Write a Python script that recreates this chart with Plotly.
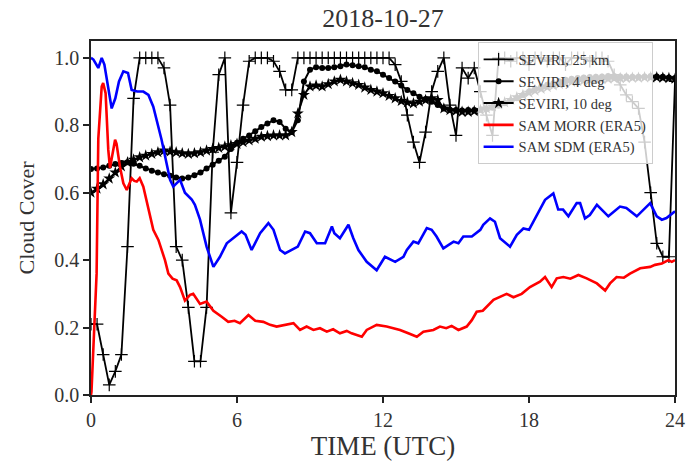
import numpy as np
import plotly.graph_objects as go

# ---------------- data ----------------
# SEVIRI time axis (15-min steps, hours UTC)
t_sev = [i * 0.25 for i in range(97)]

sev_25km = [
    0.21, 0.21, 0.12, 0.03, 0.07, 0.12, 0.44, 0.88,   # 0.00-1.75
    1.00, 1.00, 1.00, 1.00, 0.97, 0.86, 0.44, 0.40,   # 2.00-3.75
    0.26, 0.10, 0.10, 0.26, 0.72, 0.95, 1.00, 0.54,   # 4.00-5.75
    0.69, 0.86, 0.99, 1.00, 1.00, 1.00, 0.99, 0.96,   # 6.00-7.75
    0.905, 0.905, 1.00, 1.00, 1.00, 1.00, 1.00, 1.00, # 8.00-9.75
    1.00, 1.00, 1.00, 1.00, 1.00, 1.00, 1.00, 1.00,   # 10.00-11.75
    1.00, 1.00, 0.98, 0.93, 0.83, 0.75, 0.69, 0.78,   # 12.00-13.75
    0.90, 0.96, 1.00, 0.86, 0.77, 0.97, 0.94, 0.97,   # 14.00-15.75
    0.90, 0.83, 0.77, 1.00, 1.00, 0.99, 1.00, 1.00,   # 16.00-17.75
    0.98, 1.00, 1.00, 0.99, 1.00, 1.00, 0.98, 1.00,   # 18.00-19.75
    1.00, 1.00, 0.99, 1.00, 1.00, 0.99, 0.95, 0.92,   # 20.00-21.75
    0.89, 0.87, 0.85, 0.75, 0.60, 0.45, 0.41, 0.41,   # 22.00-23.75
    0.93,                                             # 24.00
]

sev_4deg = [
    0.670, 0.672, 0.675, 0.680, 0.685, 0.688, 0.690, 0.686,
    0.680, 0.672, 0.665, 0.660, 0.655, 0.650, 0.645, 0.642,
    0.645, 0.652, 0.660, 0.672, 0.683, 0.695, 0.707, 0.730,
    0.748, 0.760, 0.770, 0.782, 0.795, 0.805, 0.815, 0.810,
    0.790, 0.780, 0.815, 0.930, 0.965, 0.972, 0.970, 0.970,
    0.972, 0.975, 0.980, 0.978, 0.975, 0.972, 0.965, 0.960,
    0.950, 0.940, 0.930, 0.918, 0.905, 0.895, 0.885, 0.878,
    0.870, 0.860, 0.850, 0.846, 0.845, 0.844, 0.845, 0.845,
    0.846, 0.848, 0.852, 0.858, 0.865, 0.872, 0.880, 0.890,
    0.900, 0.908, 0.915, 0.920, 0.925, 0.930, 0.935, 0.938,
    0.940, 0.942, 0.943, 0.944, 0.945, 0.946, 0.946, 0.945,
    0.945, 0.944, 0.944, 0.945, 0.946, 0.945, 0.944, 0.942,
    0.940,
]

sev_10deg = [
    0.600, 0.612, 0.625, 0.642, 0.660, 0.678, 0.690, 0.698,
    0.705, 0.710, 0.715, 0.720, 0.725, 0.722, 0.720, 0.717,
    0.715, 0.717, 0.720, 0.725, 0.730, 0.733, 0.737, 0.741,
    0.745, 0.750, 0.755, 0.760, 0.766, 0.768, 0.770, 0.770,
    0.770, 0.780, 0.835, 0.890, 0.915, 0.918, 0.915, 0.922,
    0.930, 0.935, 0.930, 0.925, 0.920, 0.912, 0.905, 0.900,
    0.895, 0.887, 0.880, 0.872, 0.868, 0.865, 0.870, 0.875,
    0.880, 0.875, 0.850, 0.845, 0.843, 0.840, 0.840, 0.842,
    0.845, 0.850, 0.856, 0.862, 0.868, 0.875, 0.883, 0.890,
    0.897, 0.903, 0.908, 0.913, 0.918, 0.922, 0.926, 0.929,
    0.931, 0.933, 0.935, 0.936, 0.937, 0.938, 0.939, 0.940,
    0.940, 0.941, 0.941, 0.942, 0.942, 0.942, 0.941, 0.940,
    0.938,
]

# SAM MORR (ERA5)
t_morr = [0.0, 0.02, 0.23, 0.30, 0.44, 0.50, 0.60, 0.71, 0.78, 0.92, 0.99, 1.05,
          1.19, 1.33, 1.47, 1.67, 1.78, 1.88, 2.00, 2.15, 2.36, 2.56, 2.77, 3.04,
          3.18, 3.35, 3.52, 3.66, 3.86, 4.07, 4.20, 4.48, 4.75, 5.03, 5.37, 5.64,
          5.90, 6.12, 6.47, 6.75, 7.08, 7.36, 7.63, 8.04, 8.32, 8.59, 8.86, 9.14,
          9.41, 9.69, 9.95, 10.23, 10.51, 10.71, 11.13, 11.33, 11.74, 12.15, 12.43,
          12.70, 13.04, 13.39, 13.66, 14.07, 14.34, 14.60, 14.82, 15.10, 15.44,
          15.65, 15.85, 16.10, 16.54, 16.80, 17.08, 17.36, 17.70, 18.04, 18.45,
          18.66, 18.93, 19.14, 19.41, 19.70, 20.03, 20.37, 20.79, 21.13, 21.33,
          21.60, 21.90, 22.15, 22.57, 22.98, 23.18, 23.46, 23.73, 23.87, 24.0]
sam_morr = [0.0, 0.01, 0.36, 0.76, 0.915, 0.925, 0.895, 0.727, 0.673, 0.727, 0.757, 0.745,
            0.677, 0.628, 0.608, 0.643, 0.635, 0.633, 0.643, 0.618, 0.549, 0.49, 0.46, 0.40,
            0.36, 0.345, 0.34, 0.32, 0.28, 0.297, 0.30, 0.27, 0.277, 0.25, 0.232, 0.217,
            0.22, 0.213, 0.237, 0.22, 0.217, 0.208, 0.203, 0.208, 0.213, 0.193, 0.203, 0.193,
            0.198, 0.188, 0.195, 0.183, 0.19, 0.183, 0.173, 0.193, 0.208, 0.203, 0.198,
            0.193, 0.183, 0.173, 0.188, 0.193, 0.203, 0.198, 0.205, 0.193, 0.203,
            0.222, 0.247, 0.25, 0.282, 0.29, 0.30, 0.29, 0.30, 0.32, 0.336,
            0.35, 0.32, 0.346, 0.35, 0.345, 0.356, 0.346, 0.331, 0.31, 0.331,
            0.35, 0.348, 0.36, 0.376, 0.38, 0.386, 0.39, 0.40, 0.395, 0.40]

# SAM SDM (ERA5)
t_sdm = [0.0, 0.10, 0.30, 0.44, 0.55, 0.85, 1.00, 1.15, 1.33, 1.52, 1.67, 1.90, 2.15,
         2.36, 2.56, 2.90, 3.25, 3.38, 3.66, 3.86, 4.14, 4.27, 4.48, 4.75, 5.03, 5.30,
         5.58, 5.92, 6.19, 6.35, 6.60, 6.95, 7.29, 7.50, 7.77, 7.97, 8.25, 8.50, 8.80,
         9.00, 9.28, 9.62, 9.90, 10.00, 10.23, 10.58, 10.78, 10.99, 11.33, 11.74, 12.08,
         12.50, 12.84, 12.98, 13.25, 13.45, 13.80, 14.00, 14.20, 14.48, 14.90, 15.10,
         15.30, 15.65, 16.00, 16.12, 16.40, 16.60, 16.81, 17.22, 17.50, 17.77, 18.00,
         18.32, 18.66, 19.00, 19.20, 19.40, 19.62, 19.96, 20.10, 20.30, 20.50, 20.79,
         21.06, 21.26, 21.74, 22.00, 22.43, 22.70, 22.98, 23.25, 23.46, 23.65, 23.87, 24.0]
sam_sdm = [1.0, 0.995, 0.97, 1.0, 0.98, 0.85, 0.88, 0.93, 0.96, 0.955, 0.905, 0.90, 0.90,
           0.89, 0.855, 0.757, 0.638, 0.618, 0.638, 0.60, 0.58, 0.564, 0.52, 0.44, 0.38, 0.41,
           0.45, 0.47, 0.485, 0.475, 0.43, 0.48, 0.51, 0.49, 0.43, 0.42, 0.43, 0.44, 0.485,
           0.48, 0.45, 0.45, 0.50, 0.48, 0.465, 0.505, 0.465, 0.43, 0.395, 0.37, 0.41,
           0.395, 0.41, 0.43, 0.455, 0.45, 0.495, 0.49, 0.47, 0.435, 0.455, 0.45,
           0.47, 0.47, 0.49, 0.505, 0.524, 0.514, 0.465, 0.44, 0.475, 0.494, 0.49,
           0.534, 0.579, 0.598, 0.55, 0.55, 0.53, 0.569, 0.569, 0.524, 0.534, 0.564,
           0.544, 0.53, 0.559, 0.555, 0.53, 0.55, 0.569, 0.53, 0.52, 0.525, 0.539, 0.545]

x_ticks = [0, 6, 12, 18, 24]
y_ticks = [0.0, 0.2, 0.4, 0.6, 0.8, 1.0]
title_text = "2018-10-27"

# ---------------- figure ----------------
FONT = "Liberation Serif"
fig = go.Figure()

fig.add_trace(go.Scatter(
    x=t_sev, y=sev_25km, mode="lines+markers", name="SEVIRI, 25 km",
    line=dict(color="black", width=1.8),
    marker=dict(symbol="cross-thin", size=9, line=dict(color="black", width=1.2)),
))
fig.add_trace(go.Scatter(
    x=t_sev, y=sev_4deg, mode="lines+markers", name="SEVIRI, 4 deg",
    line=dict(color="black", width=2),
    marker=dict(symbol="circle", size=6, color="black"),
))
fig.add_trace(go.Scatter(
    x=t_sev, y=sev_10deg, mode="lines+markers", name="SEVIRI, 10 deg",
    line=dict(color="black", width=2),
    marker=dict(symbol="star", size=9, color="black"),
))
fig.add_trace(go.Scatter(
    x=t_morr, y=sam_morr, mode="lines", name="SAM MORR (ERA5)",
    line=dict(color="#ff0000", width=2.6),
))
fig.add_trace(go.Scatter(
    x=t_sdm, y=sam_sdm, mode="lines", name="SAM SDM (ERA5)",
    line=dict(color="#0000ff", width=2.6),
))

axis_common = dict(
    showgrid=False, zeroline=False, showline=True, linecolor="#222",
    linewidth=1.5, mirror=True, ticks="outside", ticklen=6, tickwidth=1.5,
    tickcolor="#222", tickfont=dict(family=FONT, size=20, color="#333"),
    automargin=False,
)
fig.update_xaxes(range=[0, 24], tickvals=x_ticks, ticktext=[str(v) for v in x_ticks],
                 title=dict(text="TIME (UTC)", font=dict(family=FONT, size=27, color="#333"),
                            standoff=4),
                 **axis_common)
fig.update_yaxes(range=[0, 1.05], tickvals=y_ticks, ticktext=[f"{v:.1f}" for v in y_ticks],
                 title=dict(text="Cloud Cover", font=dict(family=FONT, size=22, color="#333"),
                            standoff=14),
                 **axis_common)

fig.update_layout(
    width=692, height=462,
    margin=dict(l=91, r=17, t=41, b=67),
    paper_bgcolor="white", plot_bgcolor="white",
    title=dict(text=title_text, x=0.5, xref="paper", xanchor="center",
               y=1 - 18 / 462, yref="container", yanchor="middle",
               font=dict(family=FONT, size=26, color="#333")),
    legend=dict(x=0.662, y=0.996, xanchor="left", yanchor="top",
                bgcolor="rgba(255,255,255,0.8)", bordercolor="#cccccc", borderwidth=1,
                font=dict(family=FONT, size=14.5, color="#333"),
                tracegroupgap=0, itemwidth=30),
    showlegend=True,
)

fig.write_html("out.html")
